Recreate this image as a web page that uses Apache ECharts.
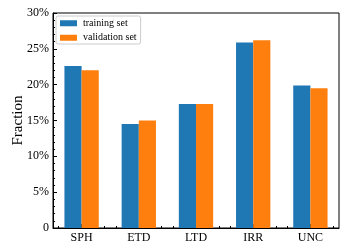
<!DOCTYPE html>
<html><head><meta charset="utf-8">
<script src="https://cdn.jsdelivr.net/npm/echarts@6/dist/echarts.min.js"></script>
<style>html,body{margin:0;padding:0;background:#fff}#c{width:349px;height:249px}</style>
</head><body><div id="c"></div>
<script>
const categories = ['SPH', 'ETD', 'LTD', 'IRR', 'UNC'];
const trainingSet = [22.6, 14.5, 17.3, 25.9, 19.9];
const validationSet = [22.0, 15.0, 17.3, 26.2, 19.5];
const yTicks = [0, 5, 10, 15, 20, 25, 30];
const minorCats = Array.from({length: categories.length * 5}, () => '');
const font = 'Liberation Serif';
const chart = echarts.init(document.getElementById('c'));
chart.setOption({
  animation: false,
  grid: {left: 53, right: 10, top: 13, bottom: 21, show: true, borderColor: '#000', borderWidth: 1, backgroundColor: 'transparent'},
  legend: {
    orient: 'vertical', left: 56, top: 16, padding: [1, 4, 0, 4],
    itemWidth: 17, itemHeight: 6, itemGap: 2,
    borderColor: '#ccc', borderWidth: 1, borderRadius: 2, backgroundColor: '#fff',
    icon: 'rect',
    textStyle: {fontFamily: font, fontSize: 10, lineHeight: 12.5, color: '#000', padding: [0, 0, 0, 1]},
    data: ['training set', 'validation set']
  },
  xAxis: [{
    type: 'category', data: categories, gridIndex: 0,
    axisLine: {show: true, lineStyle: {color: '#000', width: 1}},
    axisTick: {show: true, inside: true, alignWithLabel: true, length: 4, lineStyle: {color: '#000'}},
    axisLabel: {fontFamily: font, fontSize: 12, color: '#000', margin: 4},
    splitLine: {show: false}
  }, {
    type: 'category', data: minorCats, gridIndex: 0, position: 'bottom',
    axisLine: {show: false},
    axisTick: {show: true, inside: true, alignWithLabel: true, interval: 0, length: 2, lineStyle: {color: '#000'}},
    axisLabel: {show: false},
    splitLine: {show: false}
  }],
  yAxis: {
    type: 'value', min: yTicks[0], max: yTicks[yTicks.length - 1], interval: 5,
    name: 'Fraction', nameLocation: 'middle', nameGap: 27, nameRotate: 90, nameMoveOverlap: false,
    nameTextStyle: {fontFamily: font, fontSize: 15, color: '#000'},
    axisLine: {show: true, lineStyle: {color: '#000', width: 1}},
    axisTick: {show: true, inside: true, length: 4, lineStyle: {color: '#000'}},
    minorTick: {show: true, splitNumber: 5, length: 2, lineStyle: {color: '#000'}},
    axisLabel: {fontFamily: font, fontSize: 12, color: '#000', margin: 4,
      formatter: v => v === 0 ? '0' : v + '%'},
    splitLine: {show: false}
  },
  series: [
    {name: 'training set', type: 'bar', data: trainingSet, barWidth: '30%', barGap: '0%', itemStyle: {color: '#1f77b4'}},
    {name: 'validation set', type: 'bar', data: validationSet, barWidth: '30%', barGap: '0%', itemStyle: {color: '#ff7f0e'}}
  ]
});
</script></body></html>
